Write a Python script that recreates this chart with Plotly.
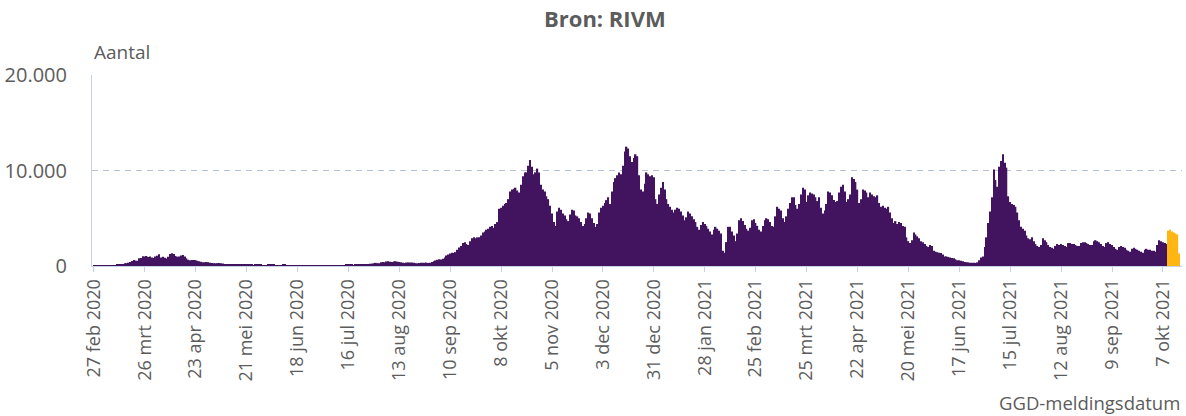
import pandas as pd
import plotly.graph_objects as go

# Daily positive tests by GGD report date, starting 27 feb 2020 (weeks run Thu..Wed)
cases_feb_jul_2020 = [
    1, 1, 4, 3, 8, 6, 14,
    44, 46, 60, 77, 56, 61, 121,
    190, 155, 176, 278, 292, 346, 409,
    530, 640, 570, 545, 810, 850, 1020,
    1000, 1050, 950, 1000, 880, 850, 1000,
    1080, 1220, 900, 960, 870, 780, 970,
    1250, 1340, 1250, 1050, 980, 1000, 1100,
    1150, 1000, 800, 650, 600, 620, 640,
    620, 550, 500, 450, 400, 380, 420,
    400, 350, 320, 300, 280, 300, 320,
    300, 260, 220, 200, 190, 210, 220,
    200, 180, 150, 130, 120, 160, 210,
    200, 150, 130, 120, 100, 130, 150,
    130, 120, 100, 90, 80, 110, 120,
    180, 120, 100, 90, 80, 100, 110,
    110, 100, 90, 70, 70, 90, 100,
    90, 80, 70, 60, 50, 60, 70,
    60, 55, 50, 40, 45, 50, 55,
]
cases_jul_dec_2020 = [
    60, 55, 60, 50, 45, 55, 65,
    80, 75, 70, 65, 60, 90, 110,
    120, 140, 110, 100, 130, 160, 190,
    190, 200, 180, 170, 210, 240, 260,
    300, 330, 300, 280, 380, 420, 400,
    480, 500, 450, 420, 480, 500, 460,
    420, 400, 350, 320, 360, 380, 360,
    360, 340, 300, 280, 320, 340, 330,
    340, 350, 320, 330, 420, 500, 580,
    650, 700, 680, 750, 900, 1100, 1200,
    1300, 1400, 1350, 1450, 1700, 1950, 2100,
    2400, 2500, 2300, 2200, 2600, 2900, 3000,
    2900, 3000, 3000, 3200, 3500, 3600, 3800,
    3900, 4100, 4200, 4000, 4400, 4600, 6000,
    6100, 6300, 6500, 6600, 7000, 7800, 8000,
    8100, 8200, 7900, 7700, 8500, 9400, 9800,
    9800, 10500, 11100, 10400, 9600, 9800, 10200,
    9800, 8500, 8000, 7800, 7300, 7000, 6300,
    5500, 4600, 4200, 5700, 6100, 5900, 5500,
    5300, 4900, 4700, 5400, 5900, 5800, 5300,
    5200, 5000, 4600, 4200, 4400, 5000, 5600,
    5500, 5000, 4500, 4100, 4400, 5600, 6100,
    6300, 6600, 6900, 7200, 6500, 7800, 8800,
    9200, 9500, 9800, 9600, 10500, 12000, 12500,
    12300, 11500, 10900, 11300, 11700, 11500, 9500,
    8000, 7800, 8600, 9800, 9600, 9400, 9500,
]
cases_dec_jun_2021 = [
    9300, 7000, 6500, 7500, 8200, 8800, 8000,
    7000, 6500, 6200, 5900, 5600, 5900, 6100,
    6000, 5700, 5300, 4800, 5100, 5700, 5500,
    5200, 4900, 4600, 4100, 3800, 4300, 4600,
    4400, 4200, 3900, 3600, 3300, 3800, 4100,
    3900, 3700, 3400, 1600, 1400, 2500, 4100,
    4100, 3600, 3200, 2600, 3400, 4800, 5000,
    4700, 4300, 3900, 3700, 4000, 4800, 4900,
    4500, 4200, 3800, 3600, 4200, 4800, 5000,
    4900, 4600, 4200, 4100, 5200, 6200, 6000,
    5800, 5000, 4600, 5200, 6000, 6600, 7200,
    7200, 6400, 6000, 6500, 7500, 8200, 8000,
    6700, 7400, 7700, 7600, 7500, 7200, 6800,
    7200, 6100, 5500, 5800, 6500, 7800, 7700,
    7400, 6900, 6700, 6800, 7700, 8300, 8500,
    7800, 6700, 7000, 7500, 9300, 9100, 8800,
    8000, 6600, 7000, 8000, 7900, 7700, 7200,
    7700, 7500, 7300, 7200, 7400, 6600, 6200,
    6300, 6100, 6000, 6200, 5600, 5000, 4500,
    4700, 4400, 4600, 4500, 4200, 4100, 3000,
    2600, 2400, 2700, 3500, 3300, 3100, 2900,
    2600, 2500, 2300, 2100, 2000, 2200, 2100,
    1600, 1500, 1450, 1400, 1350, 1200, 1000,
    1000, 950, 900, 850, 800, 700, 600,
    600, 550, 500, 420, 400, 380, 350,
    340, 330, 320, 380, 600, 900, 1000,
]
cases_jul_oct_2021 = [
    2000, 3000, 4500, 5700, 7200, 10100, 9000,
    8300, 10400, 11000, 11700, 10800, 10300, 7300,
    6700, 6500, 6400, 6200, 5600, 4800, 4100,
    3900, 3700, 3200, 2900, 2800, 3000, 2600,
    2300, 2100, 2000, 2200, 2900, 2700, 2500,
    2200, 2000, 1900, 1800, 2100, 2300, 2200,
    2300, 2200, 2100, 2000, 2400, 2400, 2300,
    2300, 2200, 2100, 2100, 2400, 2500, 2500,
    2400, 2300, 2200, 2200, 2600, 2700, 2600,
    2500, 2300, 2100, 2000, 2400, 2500, 2300,
    2200, 2000, 1800, 1700, 2000, 2100, 2000,
    1900, 1700, 1600, 1500, 1800, 1900, 1800,
    1700, 1600, 1500, 1400, 1700, 1800, 1700,
    1700, 1600, 1600, 1500, 2200, 2700, 2600,
    2500, 2400, 2300, 3700, 3800, 3600, 3500,
    3400, 3300, 1300,
]
n_provisional = 7  # last days, still incomplete (orange)

tick_dates = pd.date_range("2020-02-27", periods=22, freq="28D")
tick_labels = [
    "27 feb 2020", "26 mrt 2020", "23 apr 2020", "21 mei 2020", "18 jun 2020",
    "16 jul 2020", "13 aug 2020", "10 sep 2020", "8 okt 2020", "5 nov 2020",
    "3 dec 2020", "31 dec 2020", "28 jan 2021", "25 feb 2021", "25 mrt 2021",
    "22 apr 2021", "20 mei 2021", "17 jun 2021", "15 jul 2021", "12 aug 2021",
    "9 sep 2021", "7 okt 2021",
]
y_ticks = [0, 10000, 20000]
y_labels = ["0", "10.000", "20.000"]

cases = cases_feb_jul_2020 + cases_jul_dec_2020 + cases_dec_jun_2021 + cases_jul_oct_2021
dates = pd.date_range("2020-02-27", periods=len(cases), freq="D")

PURPLE = "#42145f"
ORANGE = "#ffb612"
colors = [PURPLE] * (len(cases) - n_provisional) + [ORANGE] * n_provisional

TXT = "#5c5c5c"
AXIS = "#c5d3e4"
FONT = "Open Sans"

fig = go.Figure(go.Bar(x=dates, y=cases, marker=dict(color=colors, line=dict(width=0)),
                       hoverinfo="x+y"))

fig.update_layout(
    width=1186, height=416,
    margin=dict(l=92, r=4, t=75, b=150, autoexpand=False),
    paper_bgcolor="white", plot_bgcolor="white",
    bargap=0.2, showlegend=False,
    font=dict(family=FONT, color=TXT, size=14),
)
fig.update_xaxes(
    type="date", automargin=False,
    range=[pd.Timestamp("2020-02-26"), pd.Timestamp("2021-10-17 12:00")],
    tickmode="array", tickvals=tick_dates, ticktext=tick_labels,
    tickangle=-90, tickfont=dict(size=18, color=TXT, family=FONT),
    ticks="outside", ticklen=5, tickcolor=AXIS,
    showline=True, linecolor=AXIS, linewidth=1,
    showgrid=False, zeroline=False,
)
fig.update_yaxes(
    automargin=False,
    range=[0, 20000],
    tickmode="array", tickvals=y_ticks, ticktext=y_labels,
    tickfont=dict(size=20, color=TXT, family=FONT),
    ticks="", ticklabelstandoff=20,
    showline=True, linecolor=AXIS, linewidth=1,
    showgrid=True, gridcolor="#b3c3d5", griddash="6px,5px", gridwidth=1,
    zeroline=False,
)

fig.add_annotation(text="<b>Bron: RIVM</b>", xref="paper", yref="paper",
                   x=0.4706, y=1.298, xanchor="center", yanchor="middle",
                   showarrow=False, font=dict(size=22, color=TXT, family=FONT))
fig.add_annotation(text="Aantal", xref="paper", yref="paper",
                   x=0.0, y=1.12, xanchor="left", yanchor="middle",
                   showarrow=False, font=dict(size=19, color=TXT, family=FONT))
fig.add_annotation(text="GGD-meldingsdatum", xref="paper", yref="paper",
                   x=1.0, y=-0.717, xanchor="right", yanchor="middle",
                   showarrow=False, font=dict(size=18.5, color=TXT, family=FONT))

fig.write_html("out.html", config={"displayModeBar": False},
               post_script="document.body.style.margin='0';document.body.style.overflow='hidden';")
